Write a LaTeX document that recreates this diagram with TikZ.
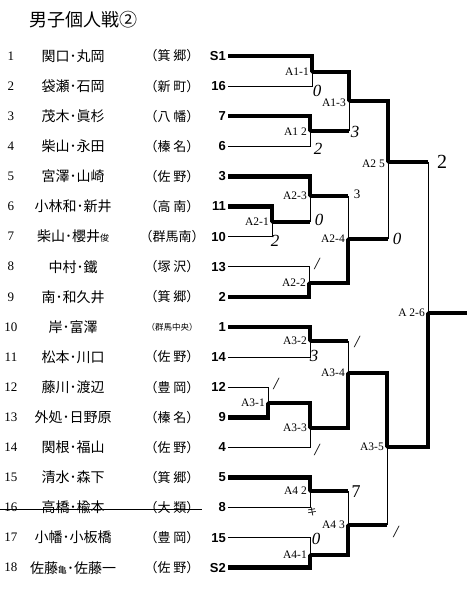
\documentclass[tikz,border=0pt]{standalone}
\usepackage{fontspec}
\setmainfont{Liberation Serif}
\newfontfamily\jpf{Noto Sans CJK JP}
\newfontfamily\sansf{Liberation Sans}
\newcommand\prow[4]{%
  \node[rowno] (no#1) at (11,{56+30.1*(#1-1)}) {#1};
  \node[nmst] (nm#1) at (73,{56+30.1*(#1-1)}) {#2};
  \node[tmst] (tm#1) at (172,{56+30.1*(#1-1)}) {#3};
  \node[sdst] (sd#1) at (226,{56+30.1*(#1-1)}) {#4};
}
\begin{document}
\begin{tikzpicture}[x=1pt,y=-1pt,
  thk/.style={line width=4.6pt,line join=miter},
  thn/.style={line width=0.9pt},
  rowno/.style={font=\fontsize{13}{13}\selectfont,inner sep=0pt},
  nmst/.style={font=\jpf\fontsize{14}{14}\selectfont,inner sep=0pt},
  tmst/.style={font=\jpf\fontsize{13}{13}\selectfont,inner sep=0pt},
  sdst/.style={font=\sansf\bfseries\fontsize{13}{13}\selectfont,inner sep=0pt,anchor=east},
  lab/.style={font=\fontsize{11.5}{11.5}\selectfont,inner sep=0pt,anchor=east,xshift=-3pt},
  score/.style={font=\fontsize{17}{17}\selectfont\itshape,inner sep=0pt},
  jdot/.style={fill=black,circle,inner sep=0pt,minimum size=3.5pt}]
\useasboundingbox (0,0) rectangle (476,591);
\fill[white] (0,0) rectangle (476,591);

\node[anchor=west,font=\jpf\fontsize{18}{18}\selectfont,inner sep=0pt] (title) at (29,20) {男子個人戦②};

\prow{1}{関口･丸岡}{（箕 郷）}{S1}
\prow{2}{袋瀬･石岡}{（新 町）}{16}
\prow{3}{茂木･眞杉}{（八 幡）}{7}
\prow{4}{柴山･永田}{（榛 名）}{6}
\prow{5}{宮澤･山崎}{（佐 野）}{3}
\prow{6}{小林和･新井}{（高 南）}{11}
\prow{7}{柴山･櫻井{\fontsize{9}{9}\selectfont 俊}}{（群馬南）}{10}
\prow{8}{中村･鐵}{（塚 沢）}{13}
\prow{9}{南･和久井}{（箕 郷）}{2}
\prow{10}{岸･富澤}{{\fontsize{8.5}{8.5}\selectfont（群馬中央）}}{1}
\prow{11}{松本･川口}{（佐 野）}{14}
\prow{12}{藤川･渡辺}{（豊 岡）}{12}
\prow{13}{外処･日野原}{（榛 名）}{9}
\prow{14}{関根･福山}{（佐 野）}{4}
\prow{15}{清水･森下}{（箕 郷）}{5}
\prow{16}{高橋･楡本}{（大 類）}{8}
\prow{17}{小幡･小板橋}{（豊 岡）}{15}
\prow{18}{佐藤{\fontsize{9}{9}\selectfont 亀}･佐藤一}{（佐 野）}{S2}

% strike-through of row 16
\draw[thn] ([xshift=-4pt,yshift=-2pt]no16.west) -- ([xshift=2pt,yshift=-2pt]tm16.east);

% match junctions
\coordinate (m11) at (312,72);
\coordinate (m12) at (310,131);
\coordinate (m13) at (349,101);
\coordinate (m21) at (272,222);
\coordinate (m23) at (310,196);
\coordinate (m22) at (309,283);
\coordinate (m24) at (348,239);
\coordinate (m25) at (388,162);
\coordinate (m26) at (428,313);
\coordinate (m32) at (310,341);
\coordinate (m31) at (268,403);
\coordinate (m33) at (310,428);
\coordinate (m34) at (348,373);
\coordinate (m42) at (310,491);
\coordinate (m41) at (310,555);
\coordinate (m43) at (348,525);
\coordinate (m35) at (387,447);
\coordinate (fin) at (467,313);

% first-round lines
\draw[thk] ([xshift=2pt]sd1.east) -- (sd1.east -| m11) -- (m11);
\draw[thn] ([xshift=2pt]sd2.east) -- (sd2.east -| m11) -- (m11);
\draw[thk] ([xshift=2pt]sd3.east) -- (sd3.east -| m12) -- (m12);
\draw[thn] ([xshift=2pt]sd4.east) -- (sd4.east -| m12) -- (m12);
\draw[thk] ([xshift=2pt]sd5.east) -- (sd5.east -| m23) -- (m23);
\draw[thk] ([xshift=2pt]sd6.east) -- (sd6.east -| m21) -- (m21);
\draw[thn] ([xshift=2pt]sd7.east) -- (sd7.east -| m21) -- (m21);
\draw[thn] ([xshift=2pt]sd8.east) -- (sd8.east -| m22) -- (m22);
\draw[thk] ([xshift=2pt]sd9.east) -- (sd9.east -| m22) -- (m22);
\draw[thk] ([xshift=2pt]sd10.east) -- (sd10.east -| m32) -- (m32);
\draw[thn] ([xshift=2pt]sd11.east) -- (sd11.east -| m32) -- (m32);
\draw[thn] ([xshift=2pt]sd12.east) -- (sd12.east -| m31) -- (m31);
\draw[thk] ([xshift=2pt]sd13.east) -- (sd13.east -| m31) -- (m31);
\draw[thn] ([xshift=2pt]sd14.east) -- (sd14.east -| m33) -- (m33);
\draw[thk] ([xshift=2pt]sd15.east) -- (sd15.east -| m42) -- (m42);
\draw[thn] ([xshift=2pt]sd16.east) -- (sd16.east -| m42) -- (m42);
\draw[thn] ([xshift=2pt]sd17.east) -- (sd17.east -| m41) -- (m41);
\draw[thk] ([xshift=2pt]sd18.east) -- (sd18.east -| m41) -- (m41);

% later rounds
\draw[thk] (m11) -- (m11 -| m13) -- (m13);
\draw[thk] (m12) -- (m12 -| m13); \draw[thn] (m12 -| m13) -- (m13);
\draw[thk] (m21) -- (m21 -| m23); \draw[thn] (m21 -| m23) -- (m23);
\draw[thk] (m23) -- (m23 -| m24); \draw[thn] (m23 -| m24) -- (m24);
\draw[thk] (m22) -- (m22 -| m24) -- (m24);
\draw[thk] (m13) -- (m13 -| m25) -- (m25);
\draw[thk] (m24) -- (m24 -| m25); \draw[thn] (m24 -| m25) -- (m25);
\draw[thk] (m25) -- (m25 -| m26); \draw[thn] (m25 -| m26) -- (m26);
\draw[thk] (m32) -- (m32 -| m34); \draw[thn] (m32 -| m34) -- (m34);
\draw[thk] (m31) -- (m31 -| m33) -- (m33);
\draw[thk] (m33) -- (m33 -| m34) -- (m34);
\draw[thk] (m42) -- (m42 -| m43); \draw[thn] (m42 -| m43) -- (m43);
\draw[thk] (m41) -- (m41 -| m43) -- (m43);
\draw[thk] (m34) -- (m34 -| m35) -- (m35);
\draw[thk] (m43) -- (m43 -| m35); \draw[thn] (m43 -| m35) -- (m35);
\draw[thk] (m35) -- (m35 -| m26) -- (m26);
\draw[thk] (m26) -- (fin);

% junction dots and labels
\foreach \m in {m11,m12,m13,m21,m23,m22,m24,m25,m26,m32,m31,m33,m34,m42,m41,m43,m35}
  \node[jdot] at (\m) {};
\node[lab] (l11) at (m11) {A1-1};
\node[lab] (l12) at ([yshift=-1pt]m12) {A1 2};
\node[lab] (l13) at ([yshift=-2pt]m13) {A1-3};
\node[lab] (l21) at (m21) {A2-1};
\node[lab] (l23) at (m23) {A2-3};
\node[lab] (l22) at (m22) {A2-2};
\node[lab] (l24) at (m24) {A2-4};
\node[lab] (l25) at ([yshift=-2pt]m25) {A2 5};
\node[lab] (l26) at (m26) {A 2-6};
\node[lab] (l32) at (m32) {A3-2};
\node[lab] (l31) at (m31) {A3-1};
\node[lab] (l33) at (m33) {A3-3};
\node[lab] (l34) at (m34) {A3-4};
\node[lab] (l42) at (m42) {A4 2};
\node[lab] (l41) at (m41) {A4-1};
\node[lab] (l43) at (m43) {A4 3};
\node[lab] (l35) at (m35) {A3-5};

% scores
\node[score] (c1) at (317,91) {0};
\node[score] (c2) at (355,132) {3};
\node[score] (c3) at (318,149) {2};
\node[score,font=\fontsize{20}{20}\selectfont] (c4) at (442,162) {2};
\node[score,font=\fontsize{13}{13}\selectfont] (c5) at (357,194) {3};
\node[score] (c6) at (319,220) {0};
\node[score] (c7) at (275,241) {2};
\node[score] (c8) at (397,239) {0};
\node[score] (c9) at (317,264) {/};
\node[score] (c10) at (357,342) {/};
\node[score] (c11) at (314,356) {3};
\node[score] (c12) at (276,384) {/};
\node[score] (c13) at (317,450) {/};
\node[score,font=\fontsize{18}{18}\selectfont] (c14) at (356,492) {7};
\node[score,font=\jpf\fontsize{10}{10}\selectfont] (c15) at (312,512) {キ};
\node[score] (c16) at (316,539) {0};
\node[score] (c17) at (396,532) {/};
\end{tikzpicture}
\end{document}
